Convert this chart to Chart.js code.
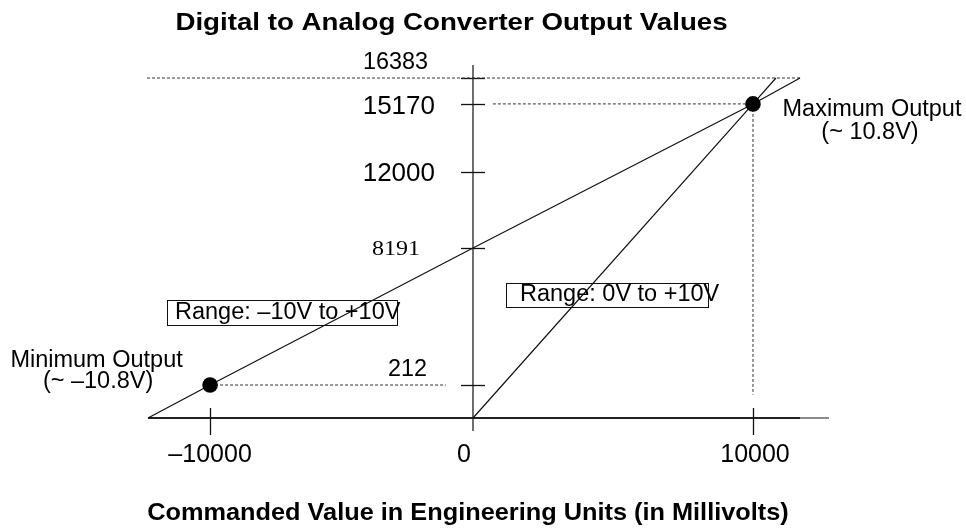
<!DOCTYPE html>
<html>
<head>
<meta charset="utf-8">
<title>Digital to Analog Converter Output Values</title>
<script src="https://cdn.jsdelivr.net/npm/chart.js@4.4.1/dist/chart.umd.min.js"></script>
<style>
  html, body { margin: 0; padding: 0; background: #fff; }
  #wrap { width: 966px; height: 528px; }
</style>
</head>
<body>
<div id="wrap"><canvas id="dac" width="966" height="528"></canvas></div>
<script>
// Commanded value (mV) and the DAC count it produces
const bipolarMv      = [-12360, -10000, 0, 10000, 11680];   // range -10V to +10V
const bipolarCounts  = [0, 212, 8191, 15170, 16383];
const unipolarMv     = [0, 10000, 10820];                    // range 0V to +10V
const unipolarCounts = [0, 15170, 16383];
const limitMv        = [-10000, 10000];                      // minimum / maximum output
const limitCounts    = [212, 15170];

// Reference levels
const fullScaleMv     = [-12400, 11680];
const fullScaleCounts = [16383, 16383];
const maxLevelMv      = [710, 10000];
const maxLevelCounts  = [15170, 15170];
const maxDropMv       = [10000, 10000];
const maxDropCounts   = [15170, 150];
const minLevelMv      = [-10000, -1030];
const minLevelCounts  = [212, 212];

// Axis ticks
const countTicks      = [16383, 15170, 12000, 8191, 212];
const countTickLabels = ['16383', '15170', '12000', '8191', '212'];
const mvTicks         = [-10000, 0, 10000];
const mvTickLabels    = ['\u201310000', '0', '10000'];

// The diagram is drawn out of scale near the ends: each axis maps a value
// to a "drawn" value piecewise-linearly before the usual linear mapping.
const mvDrawnAt    = [[-10000, -9390], [0, 0], [10000, 10000]];
const countDrawnAt = [[0, 0], [212, 1590], [8191, 8191], [12000, 11870], [16383, 16383]];

class SchematicScale extends Chart.LinearScale {
  static id = 'schematic';
  warp(value) {
    const a = this.options.drawnAt || [];
    if (a.length < 2) return value;
    let i = 0;
    while (i < a.length - 2 && value > a[i + 1][0]) i++;
    const v0 = a[i][0], d0 = a[i][1], v1 = a[i + 1][0], d1 = a[i + 1][1];
    return d0 + (value - v0) * (d1 - d0) / (v1 - v0);
  }
  getPixelForValue(value, index) {
    if (value === null || value === undefined) return NaN;
    return super.getPixelForValue(this.warp(value), index);
  }
}
Chart.register(SchematicScale);

const zip = (xs, ys) => xs.map((x, i) => ({ x, y: ys[i] }));

const SANS = '"Liberation Sans", Arial, Helvetica, sans-serif';
const SERIF = '"Liberation Serif", "Times New Roman", serif';

// Text helper; sx widens the glyphs horizontally
function text(ctx, str, x, y, font, align, sx) {
  ctx.save();
  ctx.font = font;
  ctx.textAlign = align || 'left';
  ctx.textBaseline = 'alphabetic';
  ctx.fillStyle = '#000';
  ctx.translate(x, y);
  ctx.scale(sx || 1, 1);
  ctx.fillText(str, 0, 0);
  ctx.restore();
}

// Label styles for each count tick (the diagram mixes sizes)
const countTickStyle = [
  { font: '23.4px ' + SANS, align: 'center', dx: -77.5, dy: -8.7, sx: 1 },
  { font: '26px ' + SANS,   align: 'right',  dx: -38,   dy: 10,   sx: 1 },
  { font: '26px ' + SANS,   align: 'right',  dx: -38,   dy: 9,    sx: 1 },
  { font: '20px ' + SERIF,  align: 'right',  dx: -53,   dy: 6.5,  sx: 1.2 },
  { font: '23.4px ' + SANS, align: 'center', dx: -65.5, dy: -9,   sx: 1 }
];
const mvTickDx = [0, -9, 2];

const diagramPlugin = {
  id: 'diagram',
  beforeDatasetsDraw(chart) {
    const { ctx } = chart;
    const xs = chart.scales.x, ys = chart.scales.y;
    const ax = xs.getPixelForValue(0);
    const ay = ys.getPixelForValue(0);
    const top = ys.getPixelForValue(16383);
    ctx.save();
    // vertical axis
    ctx.strokeStyle = '#222';
    ctx.lineWidth = 1.3;
    ctx.beginPath();
    ctx.moveTo(ax, top - 13);
    ctx.lineTo(ax, ay + 13);
    ctx.stroke();
    // horizontal axis
    ctx.lineWidth = 2;
    ctx.strokeStyle = '#222';
    ctx.beginPath();
    ctx.moveTo(xs.left, ay);
    ctx.lineTo(xs.right, ay);
    ctx.stroke();
    ctx.strokeStyle = '#8a8a8a';
    ctx.beginPath();
    ctx.moveTo(xs.right, ay);
    ctx.lineTo(xs.right + 29, ay);
    ctx.stroke();
    // count ticks
    ctx.strokeStyle = '#111';
    ctx.lineWidth = 1.3;
    countTicks.forEach(v => {
      const y = Math.round(ys.getPixelForValue(v)) + 0.5;
      ctx.beginPath();
      ctx.moveTo(ax - 12, y);
      ctx.lineTo(ax + 12, y);
      ctx.stroke();
    });
    // millivolt ticks
    mvTicks.forEach(v => {
      if (v === 0) return;
      const x = Math.round(xs.getPixelForValue(v)) + 0.5;
      ctx.beginPath();
      ctx.moveTo(x, ay - 10);
      ctx.lineTo(x, ay + 17);
      ctx.stroke();
    });
    ctx.restore();
  },
  afterDraw(chart) {
    const { ctx } = chart;
    const xs = chart.scales.x, ys = chart.scales.y;
    const ax = xs.getPixelForValue(0);
    const ay = ys.getPixelForValue(0);

    // titles
    text(ctx, 'Digital to Analog Converter Output Values', 451.5, 30, 'bold 24.5px ' + SANS, 'center', 1.13);
    text(ctx, 'Commanded Value in Engineering Units (in Millivolts)', 468, 520, 'bold 24px ' + SANS, 'center', 1.055);

    // count tick labels
    countTicks.forEach((v, i) => {
      const s = countTickStyle[i];
      text(ctx, countTickLabels[i], ax + s.dx, ys.getPixelForValue(v) + s.dy, s.font, s.align, s.sx);
    });
    // millivolt tick labels
    mvTicks.forEach((v, i) => {
      text(ctx, mvTickLabels[i], xs.getPixelForValue(v) + mvTickDx[i], ay + 44, '25px ' + SANS, 'center');
    });

    // end-point notes
    const f = '23.5px ' + SANS;
    const mx = xs.getPixelForValue(limitMv[1]), my = ys.getPixelForValue(limitCounts[1]);
    text(ctx, 'Maximum Output', mx + 119, my + 12, f, 'center');
    text(ctx, '(~ 10.8V)', mx + 117, my + 35.5, f, 'center');
    const nx = xs.getPixelForValue(limitMv[0]), ny = ys.getPixelForValue(limitCounts[0]);
    text(ctx, 'Minimum Output', nx - 113.5, ny - 17.7, f, 'center');
    text(ctx, '(~ \u201310.8V)', nx - 112, ny + 3.3, f, 'center');

    // range boxes
    ctx.save();
    ctx.strokeStyle = '#111';
    ctx.lineWidth = 1;
    ctx.strokeRect(167.5, 300.5, 230, 25);
    ctx.strokeRect(506.5, 283.5, 202, 24);
    ctx.restore();
    text(ctx, 'Range: \u201310V to +10V', 175, 319, f, 'left');
    text(ctx, 'Range: 0V to +10V', 520, 301, f, 'left');
  }
};

const solid = { showLine: true, borderColor: '#111', borderWidth: 1.2, pointRadius: 0, clip: false, order: 2 };
const dashed = { showLine: true, borderColor: '#333', borderWidth: 1, borderDash: [3, 2], pointRadius: 0, clip: false, order: 3 };

new Chart(document.getElementById('dac'), {
  type: 'scatter',
  data: {
    datasets: [
      { ...dashed, label: 'Full scale', data: zip(fullScaleMv, fullScaleCounts) },
      { ...dashed, label: 'Maximum level', data: zip(maxLevelMv, maxLevelCounts) },
      { ...dashed, label: 'Maximum drop', data: zip(maxDropMv, maxDropCounts) },
      { ...dashed, label: 'Minimum level', data: zip(minLevelMv, minLevelCounts) },
      { ...solid, label: 'Range -10V to +10V', data: zip(bipolarMv, bipolarCounts) },
      { ...solid, label: 'Range 0V to +10V', data: zip(unipolarMv, unipolarCounts) },
      { label: 'Output limits', data: zip(limitMv, limitCounts), showLine: false,
        pointRadius: 7.8, pointBackgroundColor: '#000', pointBorderColor: '#000',
        pointBorderWidth: 0, clip: false, order: 1 }
    ]
  },
  options: {
    responsive: false,
    animation: false,
    events: [],
    layout: { padding: { left: 148, right: 166, top: 78, bottom: 110 } },
    plugins: { legend: { display: false }, tooltip: { enabled: false }, title: { display: false } },
    scales: {
      x: { type: 'schematic', display: false, min: -11607, max: 11679, drawnAt: mvDrawnAt },
      y: { type: 'schematic', display: false, min: 0, max: 16383, drawnAt: countDrawnAt }
    }
  },
  plugins: [diagramPlugin]
});
</script>
</body>
</html>
